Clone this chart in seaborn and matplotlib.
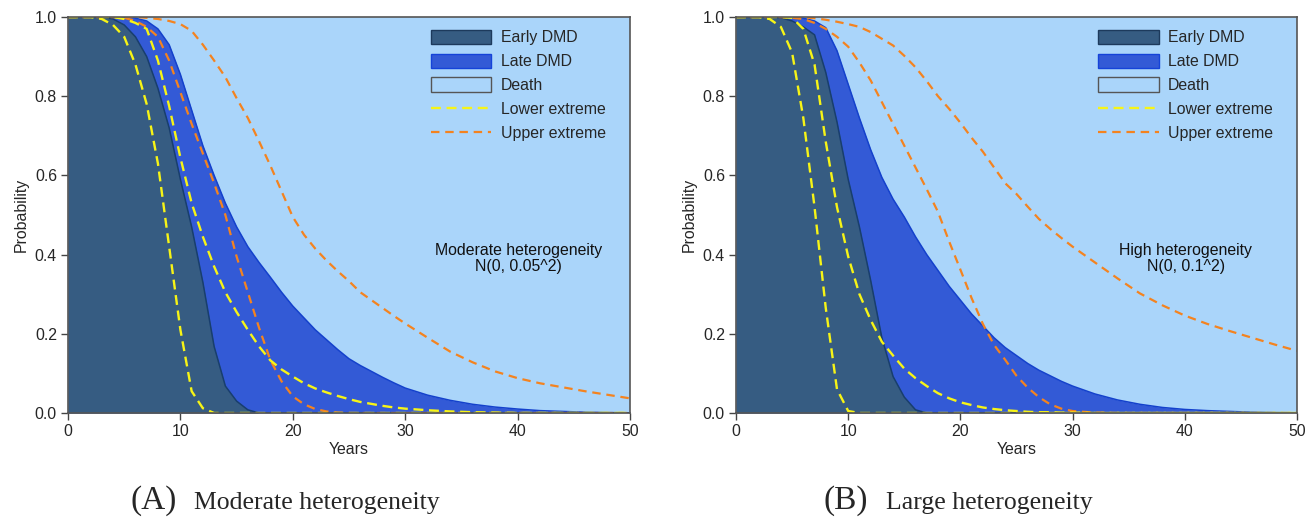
import matplotlib
matplotlib.use("Agg")
import matplotlib.pyplot as plt
from matplotlib.patches import Patch
from matplotlib.lines import Line2D
import seaborn as sns
import pandas as pd

sns.set_style("ticks")
plt.rcParams['font.family'] = ['Liberation Sans', 'DejaVu Sans']

# ---------------- data ----------------
years = [0, 1, 2, 3, 4, 5, 6, 7, 8, 9, 10, 11, 12, 13, 14, 15, 16, 17, 18, 19, 20,
         21, 22, 23, 24, 25, 26, 27, 28, 29, 30, 32, 34, 36, 38, 40, 42, 44, 46, 48, 50]

# Panel A: moderate heterogeneity
early_a = [1, 1, 1, 1, 0.995, 0.98, 0.95, 0.90, 0.82, 0.72, 0.59, 0.47, 0.33, 0.168, 0.068, 0.03, 0.008, 0, 0, 0, 0,
           0, 0, 0, 0, 0, 0, 0, 0, 0, 0, 0, 0, 0, 0, 0, 0, 0, 0, 0, 0]
late_a = [1, 1, 1, 1, 1, 0.999, 0.997, 0.99, 0.97, 0.93, 0.855, 0.765, 0.675, 0.60, 0.53, 0.47, 0.42, 0.38, 0.343, 0.305, 0.27,
          0.24, 0.21, 0.185, 0.16, 0.137, 0.12, 0.105, 0.09, 0.076, 0.063, 0.045, 0.032, 0.022, 0.015, 0.01, 0.006, 0.004, 0.002, 0.001, 0.0005]
lower1_a = [1, 1, 1, 0.995, 0.98, 0.95, 0.88, 0.78, 0.63, 0.42, 0.21, 0.055, 0.012, 0, 0, 0, 0, 0, 0, 0, 0,
            0, 0, 0, 0, 0, 0, 0, 0, 0, 0, 0, 0, 0, 0, 0, 0, 0, 0, 0, 0]
lower2_a = [1, 1, 1, 1, 1, 0.995, 0.985, 0.97, 0.89, 0.775, 0.645, 0.53, 0.445, 0.37, 0.305, 0.255, 0.21, 0.168, 0.133, 0.11, 0.092,
            0.075, 0.062, 0.052, 0.043, 0.035, 0.028, 0.023, 0.018, 0.014, 0.011, 0.007, 0.004, 0.002, 0.001, 0, 0, 0, 0, 0, 0]
upper1_a = [1, 1, 1, 1, 1, 0.998, 0.99, 0.975, 0.95, 0.89, 0.81, 0.73, 0.655, 0.58, 0.50, 0.395, 0.305, 0.215, 0.134, 0.08, 0.042,
            0.022, 0.01, 0.004, 0.001, 0, 0, 0, 0, 0, 0, 0, 0, 0, 0, 0, 0, 0, 0, 0, 0]
upper2_a = [1, 1, 1, 1, 1, 1, 1, 0.998, 0.995, 0.99, 0.982, 0.965, 0.93, 0.89, 0.848, 0.795, 0.745, 0.686, 0.625, 0.56, 0.495,
            0.45, 0.415, 0.385, 0.358, 0.333, 0.305, 0.285, 0.265, 0.245, 0.226, 0.19, 0.155, 0.128, 0.105, 0.088, 0.075, 0.065, 0.055, 0.046, 0.037]

# Panel B: large heterogeneity
early_b = [1, 1, 1, 1, 0.998, 0.99, 0.975, 0.955, 0.86, 0.735, 0.59, 0.47, 0.335, 0.19, 0.092, 0.04, 0.008, 0, 0, 0, 0,
           0, 0, 0, 0, 0, 0, 0, 0, 0, 0, 0, 0, 0, 0, 0, 0, 0, 0, 0, 0]
late_b = [1, 1, 1, 1, 1, 1, 0.997, 0.99, 0.973, 0.915, 0.83, 0.745, 0.665, 0.595, 0.54, 0.495, 0.445, 0.40, 0.36, 0.32, 0.285,
          0.25, 0.22, 0.19, 0.165, 0.145, 0.125, 0.108, 0.094, 0.08, 0.068, 0.048, 0.033, 0.022, 0.014, 0.009, 0.006, 0.004, 0.002, 0.001, 0.0005]
lower1_b = [1, 1, 1, 0.995, 0.975, 0.91, 0.745, 0.52, 0.265, 0.06, 0.005, 0, 0, 0, 0, 0, 0, 0, 0, 0, 0,
            0, 0, 0, 0, 0, 0, 0, 0, 0, 0, 0, 0, 0, 0, 0, 0, 0, 0, 0, 0]
lower2_b = [1, 1, 1, 1, 1, 0.998, 0.97, 0.88, 0.685, 0.52, 0.395, 0.30, 0.235, 0.18, 0.145, 0.112, 0.088, 0.068, 0.05, 0.037, 0.027,
            0.02, 0.014, 0.01, 0.007, 0.005, 0.003, 0.002, 0.002, 0.001, 0.001, 0, 0, 0, 0, 0, 0, 0, 0, 0, 0]
upper1_b = [1, 1, 1, 1, 1, 0.998, 0.995, 0.985, 0.97, 0.95, 0.925, 0.885, 0.84, 0.785, 0.73, 0.675, 0.62, 0.565, 0.508, 0.433, 0.362,
            0.29, 0.225, 0.172, 0.134, 0.094, 0.064, 0.04, 0.022, 0.011, 0.005, 0.001, 0, 0, 0, 0, 0, 0, 0, 0, 0]
upper2_b = [1, 1, 1, 1, 1, 1, 0.999, 0.997, 0.993, 0.988, 0.982, 0.975, 0.962, 0.945, 0.928, 0.902, 0.873, 0.838, 0.80, 0.768, 0.733,
            0.695, 0.66, 0.62, 0.58, 0.553, 0.521, 0.49, 0.465, 0.442, 0.42, 0.38, 0.34, 0.302, 0.272, 0.246, 0.225, 0.207, 0.19, 0.173, 0.157]

x_ticks = [0, 10, 20, 30, 40, 50]
y_ticks = [0.0, 0.2, 0.4, 0.6, 0.8, 1.0]
legend_labels = ["Early DMD", "Late DMD", "Death", "Lower extreme", "Upper extreme"]
notes = ["Moderate heterogeneity\nN(0, 0.05^2)", "High heterogeneity\nN(0, 0.1^2)"]
captions = [("(A)", "Moderate heterogeneity"), ("(B)", "Large heterogeneity")]

# ---------------- style ----------------
C_EARLY = "#365C82"
C_EARLY_EDGE = "#183E6E"
C_LATE = "#335AD6"
C_LATE_EDGE = "#1441CC"
C_DEATH = "#AAD5FA"
C_LOWER = "#F7F416"
C_UPPER = "#F4831F"
FS = 11.4
LOW_DASH = (0, (4.2, 2.4))
UP_DASH = (0, (3.8, 2.6))

fig = plt.figure(figsize=(13.15, 5.18), dpi=100)
ax_a = fig.add_axes([68 / 1315, 105 / 518, 562 / 1315, 396 / 518])
ax_b = fig.add_axes([736 / 1315, 105 / 518, 561 / 1315, 396 / 518])

panels = [
    (ax_a, early_a, late_a, lower1_a, lower2_a, upper1_a, upper2_a, notes[0]),
    (ax_b, early_b, late_b, lower1_b, lower2_b, upper1_b, upper2_b, notes[1]),
]

for ax, early, late, lo1, lo2, up1, up2, note in panels:
    df = pd.DataFrame({"Years": years, "early": early, "late": late,
                       "lo1": lo1, "lo2": lo2, "up1": up1, "up2": up2})
    ax.set_facecolor(C_DEATH)
    ax.fill_between(df["Years"], 0, df["late"], color=C_LATE, lw=0, zorder=1)
    ax.fill_between(df["Years"], 0, df["early"], color=C_EARLY, lw=0, zorder=2)
    sns.lineplot(data=df, x="Years", y="late", ax=ax, color=C_LATE_EDGE, lw=1.1, zorder=3)
    sns.lineplot(data=df, x="Years", y="early", ax=ax, color=C_EARLY_EDGE, lw=1.1, zorder=3)
    for col, c, ls, lw in [("up1", C_UPPER, UP_DASH, 1.6), ("up2", C_UPPER, UP_DASH, 1.6),
                           ("lo1", C_LOWER, LOW_DASH, 1.7), ("lo2", C_LOWER, LOW_DASH, 1.7)]:
        sns.lineplot(data=df, x="Years", y=col, ax=ax, color=c, lw=lw,
                     linestyle=ls, zorder=4)
    ax.set_xlim(0, 50)
    ax.set_ylim(0, 1)
    ax.set_xticks(x_ticks)
    ax.set_yticks(y_ticks)
    ax.set_yticklabels([f"{v:.1f}" for v in y_ticks])
    ax.set_xlabel("Years", fontsize=FS, labelpad=2)
    ax.set_ylabel("Probability", fontsize=FS, labelpad=4)
    ax.tick_params(axis="both", labelsize=FS, length=5, width=1, color="#444444", direction="out", pad=3)
    for sp in ax.spines.values():
        sp.set_color("#555555")
        sp.set_linewidth(1.2)
        sp.set_zorder(5)
    ax.text(40.1, 0.39, note, ha="center", va="center", fontsize=FS, linespacing=1.05, color="#111111")

    handles = [
        Patch(facecolor=C_EARLY, edgecolor="#1d3a5c", lw=1.0),
        Patch(facecolor=C_LATE, edgecolor="#1543d9", lw=1.0),
        Patch(facecolor=C_DEATH, edgecolor="#555555", lw=1.0),
        Line2D([0], [0], color=C_LOWER, lw=1.7, linestyle=LOW_DASH),
        Line2D([0], [0], color=C_UPPER, lw=1.6, linestyle=UP_DASH),
    ]
    ax.legend(handles, legend_labels, loc="upper left", bbox_to_anchor=(0.646, 0.968),
              frameon=False, fontsize=FS, handlelength=3.8, handleheight=1.0,
              labelspacing=0.53, handletextpad=0.6, borderpad=0, borderaxespad=0)

serif = ['Liberation Serif', 'DejaVu Serif']
for (lab, txt), xl, xt in zip(captions, [130, 823], [194, 886]):
    fig.text(xl / 1315, 0.0174, lab, family=serif, fontsize=24, va="baseline", ha="left")
    fig.text(xt / 1315, 0.0174, txt, family=serif, fontsize=18.5, va="baseline", ha="left")

fig.savefig("out.png", dpi=100)
